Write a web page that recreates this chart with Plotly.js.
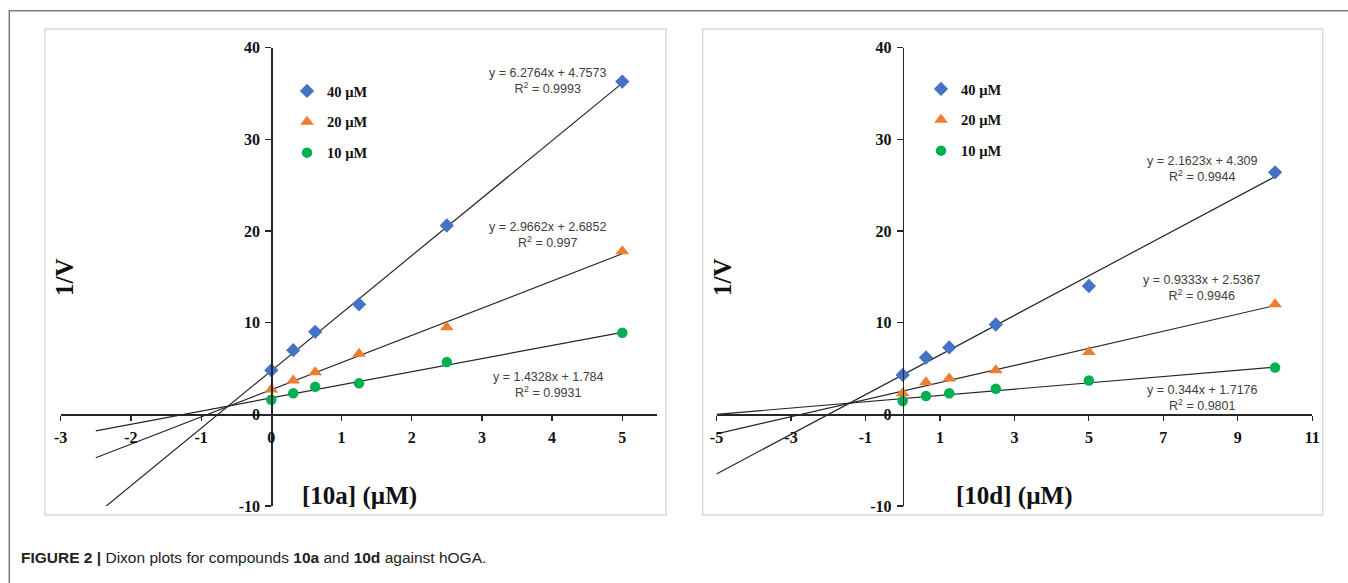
<!DOCTYPE html>
<html>
<head>
<meta charset="utf-8">
<script src="https://cdn.plot.ly/plotly-3.0.1.min.js"></script>
<style>
html,body{margin:0;padding:0;background:#fff;}
#chart{width:1348px;height:583px;}
</style>
</head>
<body>
<div id="chart"></div>
<script>
// ---------- DATA ----------
const seriesNames = ['40 µM', '20 µM', '10 µM'];

// Panel A: compound 10a
const concA = [0, 0.3125, 0.625, 1.25, 2.5, 5];
const invV_A_40 = [4.8, 7.0, 9.0, 12.0, 20.6, 36.3];
const invV_A_20 = [2.7, 3.7, 4.6, 6.6, 9.5, 17.8];
const invV_A_10 = [1.6, 2.3, 3.0, 3.4, 5.7, 8.9];
const slopeA = [6.2764, 2.9662, 1.4328];
const interceptA = [4.7573, 2.6852, 1.784];
const r2A = ['0.9993', '0.997', '0.9931'];
const fitSpanA = [-2.5, 5];
const xTicksA = [-3, -2, -1, 0, 1, 2, 3, 4, 5];

// Panel B: compound 10d
const concD = [0, 0.625, 1.25, 2.5, 5, 10];
const invV_D_40 = [4.3, 6.2, 7.3, 9.8, 14.0, 26.4];
const invV_D_20 = [2.3, 3.5, 3.9, 4.8, 6.8, 12.0];
const invV_D_10 = [1.45, 2.0, 2.3, 2.8, 3.7, 5.1];
const slopeD = [2.1623, 0.9333, 0.344];
const interceptD = [4.309, 2.5367, 1.7176];
const r2D = ['0.9944', '0.9946', '0.9801'];
const fitSpanD = [-5, 10];
const xTicksD = [-5, -3, -1, 1, 3, 5, 7, 9, 11];

const yTicks = [-10, 0, 10, 20, 30, 40];
const xTitleA = '[10a] (µM)';
const xTitleD = '[10d] (µM)';
const yTitle = '1/V';
const caption = '<b>FIGURE 2 |</b> Dixon plots for compounds <b>10a</b> and <b>10d</b> against hOGA.';

// ---------- STYLE / LAYOUT ----------
const W = 1348, H = 583;
const px = v => v / W;
const py = v => 1 - v / H;

const colors = ['#4472C4', '#ED7D31', '#00B050'];
const symbols = ['diamond', 'triangle-up', 'circle'];
const msize = [11, 12, 10.5];
const serif = 'Liberation Serif, Times New Roman, serif';
const sans = 'Liberation Sans, Arial, sans-serif';
const tickFont = {family: serif, size: 16, color: '#111', weight: 700};

const xRangeA = [-3, 5.5], xRangeD = [-5, 11], yRange = [-10, 40];
const xDomA = [px(60.7), px(657.4)];
const xDomD = [px(716.5), px(1312.3)];
const yDom = [py(506), py(47.7)];

function posAtZero(range, dom) {
  return dom[0] + (dom[1] - dom[0]) * (0 - range[0]) / (range[1] - range[0]);
}

const traces = [];
function addPanel(conc, ys, slopes, intercepts, span, xa, ya, legendId) {
  slopes.forEach((m, i) => {
    traces.push({
      x: span, y: span.map(x => m * x + intercepts[i]),
      mode: 'lines', line: {color: '#262626', width: 1.2},
      xaxis: xa, yaxis: ya, showlegend: false, hoverinfo: 'skip'
    });
  });
  ys.forEach((y, i) => {
    traces.push({
      x: conc, y: y, mode: 'markers', name: seriesNames[i],
      marker: {color: colors[i], symbol: symbols[i], size: msize[i]},
      xaxis: xa, yaxis: ya, legend: legendId, legendgroup: legendId + i
    });
  });
}
addPanel(concA, [invV_A_40, invV_A_20, invV_A_10], slopeA, interceptA, fitSpanA, 'x', 'y', 'legend');
addPanel(concD, [invV_D_40, invV_D_20, invV_D_10], slopeD, interceptD, fitSpanD, 'x2', 'y2', 'legend2');

function xAxis(range, dom, ticks) {
  return {
    range: range, domain: dom, anchor: 'free', position: posAtZero(yRange, yDom),
    tickmode: 'array', tickvals: ticks, ticktext: ticks.map(String),
    showgrid: false, zeroline: false, showline: true, linecolor: '#262626', linewidth: 1.2,
    ticks: 'outside', ticklen: 5, tickcolor: '#262626', tickwidth: 1.2,
    tickfont: tickFont, ticklabelstandoff: 3, fixedrange: true
  };
}
function yAxis(dom, xr, xd) {
  return {
    range: yRange, domain: dom, anchor: 'free', position: posAtZero(xr, xd),
    tickmode: 'array', tickvals: yTicks, ticktext: yTicks.map(String),
    showgrid: false, zeroline: false, showline: true, linecolor: '#262626', linewidth: 1.2,
    ticks: 'outside', ticklen: 6, tickcolor: '#262626', tickwidth: 1.2,
    tickfont: tickFont, ticklabelstandoff: 2, fixedrange: true
  };
}

const eqFont = {family: sans, size: 12.5, color: '#404040'};
function eqText(m, b, r2) {
  return 'y = ' + m + 'x + ' + b + '<br>R<sup>2</sup> = ' + r2;
}
const eqPosA = [[548, 81], [548, 235], [548, 385]];
const eqPosD = [[1202, 169], [1202, 288], [1202, 398]];

const annotations = [];
slopeA.forEach((m, i) => annotations.push({
  xref: 'paper', yref: 'paper', x: px(eqPosA[i][0]), y: py(eqPosA[i][1]),
  xanchor: 'center', yanchor: 'middle', showarrow: false, align: 'center',
  text: eqText(m, interceptA[i], r2A[i]), font: eqFont
}));
slopeD.forEach((m, i) => annotations.push({
  xref: 'paper', yref: 'paper', x: px(eqPosD[i][0]), y: py(eqPosD[i][1]),
  xanchor: 'center', yanchor: 'middle', showarrow: false, align: 'center',
  text: eqText(m, interceptD[i], r2D[i]), font: eqFont
}));
const titleFont = {family: serif, size: 25, color: '#111', weight: 700};
annotations.push(
  {xref: 'paper', yref: 'paper', x: px(359), y: py(496), xanchor: 'center', yanchor: 'middle', showarrow: false, text: xTitleA, font: titleFont},
  {xref: 'paper', yref: 'paper', x: px(1014), y: py(496), xanchor: 'center', yanchor: 'middle', showarrow: false, text: xTitleD, font: titleFont},
  {xref: 'paper', yref: 'paper', x: px(64), y: py(277), xanchor: 'center', yanchor: 'middle', showarrow: false, textangle: -90, text: yTitle, font: {family: serif, size: 25, color: '#111', weight: 700}},
  {xref: 'paper', yref: 'paper', x: px(722), y: py(277), xanchor: 'center', yanchor: 'middle', showarrow: false, textangle: -90, text: yTitle, font: {family: serif, size: 25, color: '#111', weight: 700}},
  {xref: 'paper', yref: 'paper', x: px(19), y: py(557), xanchor: 'left', yanchor: 'middle', showarrow: false, text: caption, font: {family: sans, size: 15.5, color: '#222'}}
);

const shapes = [
  {type: 'path', xref: 'paper', yref: 'paper', path: 'M ' + px(9.3) + ' 0 L ' + px(9.3) + ' ' + py(10.7) + ' L 1 ' + py(10.7), line: {color: '#7a7a7a', width: 1.5}},
  {type: 'rect', xref: 'paper', yref: 'paper', x0: px(45), x1: px(666), y0: py(515), y1: py(29), line: {color: '#dadada', width: 1.5}},
  {type: 'rect', xref: 'paper', yref: 'paper', x0: px(702.7), x1: px(1322.7), y0: py(515), y1: py(29), line: {color: '#dadada', width: 1.5}}
];

const legendFont = {family: serif, size: 14.5, color: '#111', weight: 700};
const layout = {
  width: W, height: H, margin: {l: 0, r: 0, t: 0, b: 0},
  paper_bgcolor: '#fff', plot_bgcolor: 'rgba(0,0,0,0)',
  showlegend: true,
  xaxis: xAxis(xRangeA, xDomA, xTicksA),
  yaxis: yAxis(yDom, xRangeA, xDomA),
  xaxis2: xAxis(xRangeD, xDomD, xTicksD),
  yaxis2: yAxis(yDom, xRangeD, xDomD),
  legend: {x: px(287), y: py(75), xanchor: 'left', yanchor: 'top', bgcolor: 'rgba(0,0,0,0)', font: legendFont, traceorder: 'grouped', tracegroupgap: 9},
  legend2: {x: px(921), y: py(73), xanchor: 'left', yanchor: 'top', bgcolor: 'rgba(0,0,0,0)', font: legendFont, traceorder: 'grouped', tracegroupgap: 9},
  annotations: annotations, shapes: shapes
};

Plotly.newPlot('chart', traces, layout, {staticPlot: true, displayModeBar: false});
</script>
</body>
</html>
